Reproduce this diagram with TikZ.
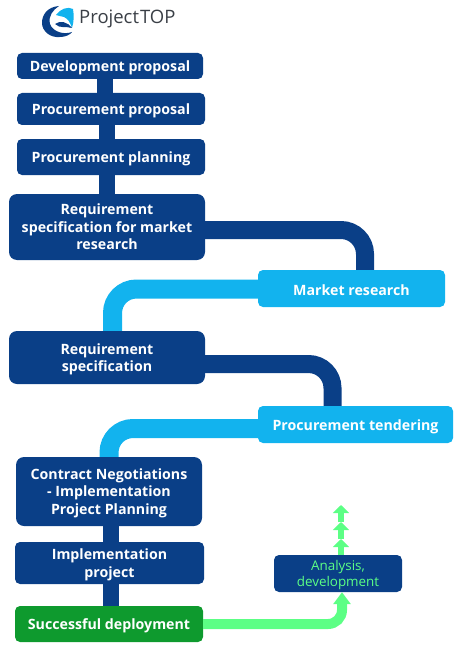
\documentclass[tikz,border=0pt]{standalone}
\usepackage{fontspec}
\setmainfont{Open Sans}
\usetikzlibrary{arrows.meta}
\definecolor{Navy}{HTML}{0A3F87}
\definecolor{Sky}{HTML}{12B3EE}
\definecolor{Mint}{HTML}{5CFF85}
\definecolor{Leaf}{HTML}{0E9A2E}
\definecolor{LogoInk}{HTML}{3A3F46}
\newcommand{\droptext}[1]{\rule{0pt}{#1}}
\tikzset{
  stagebox/.style={rectangle,rounded corners=5pt,inner sep=0pt,align=center,font=\fontsize{14.2}{17.5}\selectfont\bfseries,text=white,execute at begin node={\rule{0pt}{15pt}}},
  navybox/.style={stagebox,fill=Navy},
  skybox/.style={stagebox,fill=Sky},
  bigbox/.style={navybox,rounded corners=8pt},
  navylink/.style={Navy,line width=18pt,rounded corners=24pt},
  skylink/.style={Sky,line width=19pt,rounded corners=24pt},
  stemlink/.style={Navy,line width=16pt},
  minttrack/.style={Mint,line width=10pt,rounded corners=14pt,-{Triangle[length=12pt,width=17pt]}},
  mintstep/.style={Mint,line width=6pt,-{Triangle[length=8pt,width=16pt]}}
}
\begin{document}
\begin{tikzpicture}[x=1pt,y=-1pt]
\useasboundingbox (0,0) rectangle (463,650);
% logo
\fill[Navy] (59,6) .. controls (47,7) and (42,15) .. (42,23) .. controls (42,31) and (50,38) .. (60,37) .. controls (65,37) and (70,35) .. (72,32) .. controls (64,35) and (53,32) .. (50,24) .. controls (48,16) and (53,10) .. (59,6) -- cycle;
\fill[Sky] (56,15) .. controls (60,9) and (68,6) .. (73,9) .. controls (74,15) and (74,22) .. (72,28) .. controls (70,22) and (68,19) .. (64,17) .. controls (61,16) and (58,16) .. (56,15) -- cycle;
\fill[Navy] (55,24) .. controls (60,20) and (68,22) .. (72,28) .. controls (66,26) and (60,29) .. (55,24) -- cycle;
\node[anchor=west,inner sep=0pt,font=\fontsize{18.5}{20}\selectfont,text=LogoInk] (brand) at (79,18.5) {Project\kern1pt TOP};
% stages
\node[navybox,minimum width=186pt,minimum height=26pt] (devprop) at (110,66) {Development proposal};
\node[navybox,minimum width=188pt,minimum height=32pt] (procprop) at (111,109) {Procurement proposal};
\node[navybox,minimum width=188pt,minimum height=36pt] (procplan) at (111,157) {Procurement planning};
\node[bigbox,minimum width=196pt,minimum height=66pt] (specmarket) at (107,227) {Requirement\\specification for market\\research};
\node[skybox,minimum width=187pt,minimum height=37pt] (market) at (351.5,288.5) {Market research};
\node[bigbox,minimum width=196pt,minimum height=53pt] (spec) at (107,357.5) {\droptext{14pt}Requirement\\specification};
\node[skybox,minimum width=195pt,minimum height=37pt] (tender) at (355.5,424.5) {Procurement tendering};
\node[bigbox,minimum width=186pt,minimum height=69pt] (contract) at (109,491.5) {\droptext{13.5pt}Contract Negotiations\\- Implementation\\Project Planning};
\node[navybox,minimum width=189pt,minimum height=42pt] (implement) at (109.5,563) {\droptext{14pt}Implementation\\project};
\node[stagebox,fill=Leaf,minimum width=188pt,minimum height=36pt] (deploy) at (109,624) {Successful deployment};
\node[stagebox,fill=Navy,text=Mint,font=\fontsize{13.4}{16.5}\selectfont,minimum width=128pt,minimum height=37pt] (analysis) at (338,573.5) {\droptext{13pt}Analysis,\\development};
% links
\draw[stemlink] ([xshift=-5]devprop.south) -- ([xshift=-6]procprop.north);
\draw[stemlink] ([xshift=-4]procprop.south) -- ([xshift=-4]procplan.north);
\draw[stemlink] ([xshift=-4]procplan.south) -- (specmarket.north);
\draw[navylink] ([yshift=-3]specmarket.east) -| ([xshift=13.5]market.north);
\draw[skylink] ([yshift=-0.5]market.west) -| ([xshift=5.5]spec.north);
\draw[navylink] ([yshift=-6.5]spec.east) -| ([xshift=-23]tender.north);
\draw[skylink] ([yshift=-4]tender.west) -| (contract.north);
\draw[stemlink] ([xshift=2]contract.south) -- ([xshift=1.5]implement.north);
\draw[stemlink] ([xshift=1.5]implement.south) -- ([xshift=2]deploy.north);
% mint arrows
\draw[minttrack] (deploy.east) -| ([xshift=4]analysis.south);
\coordinate (stepa) at (341,539);
\coordinate (stepb) at (341,522);
\coordinate (stepc) at (341,505);
\draw[mintstep] ([xshift=3]analysis.north) -- (stepa);
\draw[mintstep] (stepa) -- (stepb);
\draw[mintstep] (stepb) -- (stepc);
\end{tikzpicture}
\end{document}
